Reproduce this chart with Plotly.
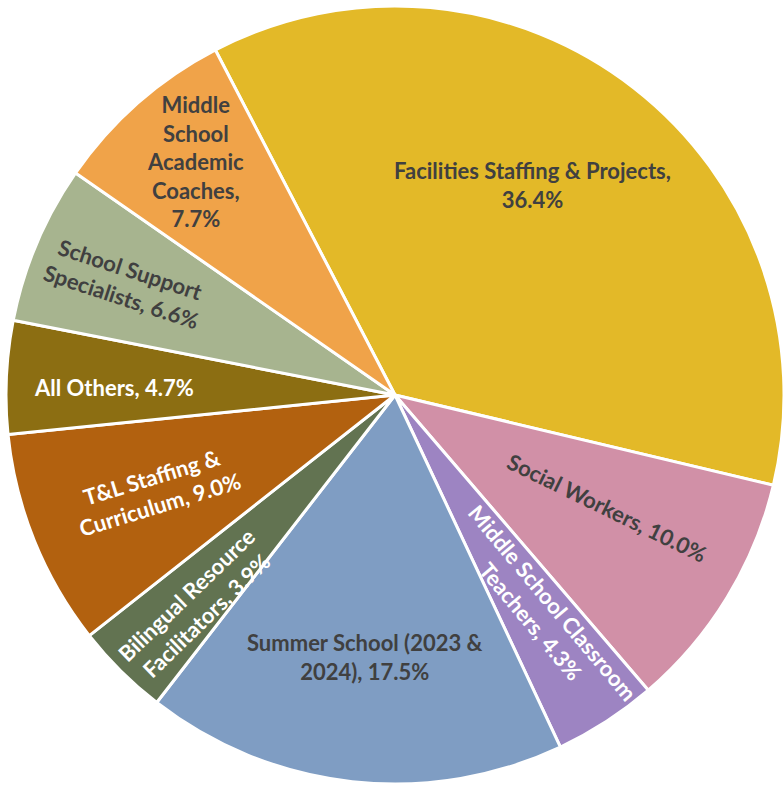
import math
import plotly.graph_objects as go

# Budget categories, listed clockwise from the top
categories = [
    "Facilities Staffing & Projects",
    "Social Workers",
    "Middle School Classroom Teachers",
    "Summer School (2023 & 2024)",
    "Bilingual Resource Facilitators",
    "T&L Staffing & Curriculum",
    "All Others",
    "School Support Specialists",
    "Middle School Academic Coaches",
]
shares = [36.4, 10.0, 4.3, 17.5, 3.9, 9.0, 4.7, 6.6, 7.7]

# How each label is broken into lines; the share is added after the last part
label_lines = [
    ["Facilities Staffing & Projects,", ""],
    ["Social Workers, "],
    ["Middle School Classroom", "Teachers, "],
    ["Summer School (2023 &", "2024), "],
    ["Bilingual Resource", "Facilitators, "],
    ["T&L Staffing &", "Curriculum, "],
    ["All Others, "],
    ["School Support", "Specialists, "],
    ["Middle", "School", "Academic", "Coaches,", ""],
]

colors = ["#E3B928", "#D190A7", "#9D84C2", "#7F9DC3", "#627351",
          "#B2610F", "#8C6E12", "#A7B48F", "#F0A349"]
text_colors = ["#404040", "#404040", "#FFFFFF", "#404040", "#FFFFFF",
               "#FFFFFF", "#FFFFFF", "#404040", "#404040"]

# Label placement: distance from centre (px), bearing clockwise from 12 o'clock, text rotation
label_radius = [251, 240, 262, 264, 289, 258, 281, 292, 307]
label_bearing = [33.1, 118.0, 146.0, 186.5, 223.3, 248.2, 271.6, 292.5, 319.4]
label_rotation = [0, 26, 50, 0, -44, -17, 0, 18, 0]

W, H = 784, 786
CX, CY, R = 395, 395, 389
START = -27.5

fig = go.Figure(
    go.Pie(
        labels=categories,
        values=shares,
        sort=False,
        direction="clockwise",
        rotation=START,
        marker=dict(colors=colors, line=dict(color="#FFFFFF", width=3)),
        textinfo="none",
        hoverinfo="label+percent",
        showlegend=False,
        domain=dict(x=[(CX - R) / W, min(1.0, (CX + R) / W)],
                    y=[(H - CY - R) / H, (H - CY + R) / H]),
    )
)

for lines, val, rad, brg, rot, tc in zip(label_lines, shares, label_radius,
                                         label_bearing, label_rotation, text_colors):
    text_lines = list(lines)
    text_lines[-1] = text_lines[-1] + f"{val:.1f}%"
    px = CX + rad * math.sin(math.radians(brg))
    py = CY - rad * math.cos(math.radians(brg))
    fig.add_annotation(
        x=px / W, y=1 - py / H, xref="paper", yref="paper",
        text="<br>".join(text_lines),
        showarrow=False, textangle=rot,
        xanchor="center", yanchor="middle", align="center",
        font=dict(family="Lato", size=22, color=tc, weight=700),
    )

fig.update_layout(
    width=W, height=H,
    margin=dict(l=0, r=0, t=0, b=0),
    paper_bgcolor="#FFFFFF",
    plot_bgcolor="#FFFFFF",
)

fig.write_html("out.html")
